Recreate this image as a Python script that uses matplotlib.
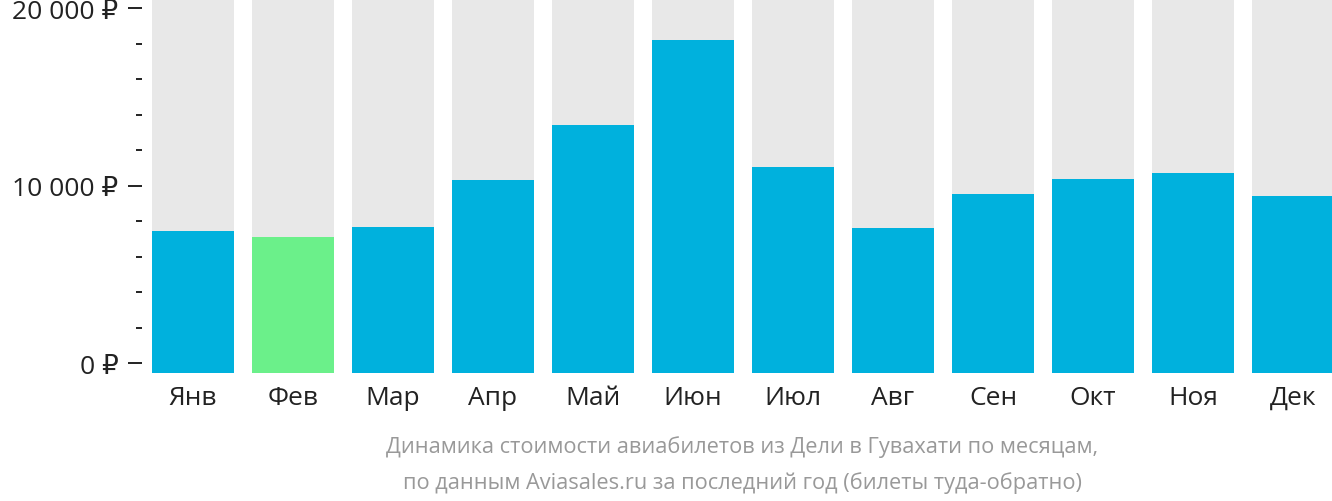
import matplotlib
matplotlib.use('Agg')
import matplotlib.pyplot as plt
from matplotlib.ticker import FixedLocator, MultipleLocator, FuncFormatter

# Données (prix moyens par mois, en roubles)
months = ['Янв', 'Фев', 'Мар', 'Апр', 'Май', 'Июн', 'Июл', 'Авг', 'Сен', 'Окт', 'Ноя', 'Дек']
prices = [7445, 7123, 7671, 10321, 13423, 18218, 11055, 7614, 9532, 10378, 10716, 9419]
cheapest = 'Фев'
y_ticks = [0, 10000, 20000]
caption = ['Динамика стоимости авиабилетов из Дели в Гувахати по месяцам,',
           'по данным Aviasales.ru за последний год (билеты туда-обратно)']

plt.rcParams['font.family'] = ['Open Sans', 'DejaVu Sans']

W, H = 1332, 502
fig = plt.figure(figsize=(W / 100, H / 100), dpi=100)
ax = fig.add_axes([152 / W, (H - 374) / H, 1180 / W, 374 / H])

ymin, ymax = -564, 20530
x = list(range(len(months)))
colors = ['#6bf08a' if m == cheapest else '#00b1dd' for m in months]

# fond gris puis barres
ax.bar(x, [ymax - ymin] * len(x), bottom=ymin, width=0.82, color='#e8e8e8', zorder=1)
ax.bar(x, [p - ymin for p in prices], bottom=ymin, width=0.82, color=colors, zorder=2)

ax.set_xlim(-0.41, 11.39)
ax.set_ylim(ymin, ymax)

for s in ['top', 'right', 'bottom']:
    ax.spines[s].set_visible(False)
ax.spines['left'].set_position(('outward', 7.2))
ax.spines['left'].set_color('none')

ax.yaxis.set_major_locator(FixedLocator(y_ticks))
ax.yaxis.set_minor_locator(MultipleLocator(2000))
ax.yaxis.set_major_formatter(FuncFormatter(lambda v, p: f'{int(v):,}'.replace(',', ' ') + ' ₽'))
ax.tick_params(axis='y', which='major', length=10, width=1.4, color='#222222',
               labelsize=19, labelcolor='#222222', pad=7)
ax.tick_params(axis='y', which='minor', length=4.3, width=1.4, color='#222222')

ax.set_xticks(x)
ax.set_xticklabels(months)
ax.tick_params(axis='x', length=0, labelsize=19, labelcolor='#222222', pad=8.5)

cx = (152 + 1332) / 2 / W
fig.text(cx, 1 - 447 / H, caption[0], ha='center', va='center', fontsize=15.7, color='#999999')
fig.text(cx, 1 - 483 / H, caption[1], ha='center', va='center', fontsize=15.7, color='#999999')

fig.savefig('out.png', dpi=100)
